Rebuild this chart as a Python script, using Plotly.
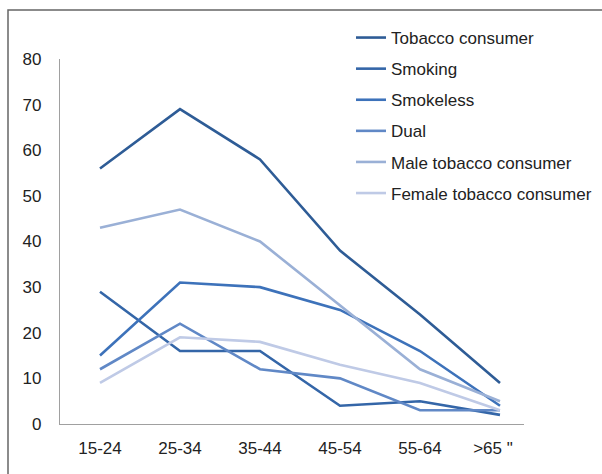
import plotly.graph_objects as go

age_groups = ["15-24", "25-34", "35-44", "45-54", "55-64", ">65"]
tick_labels = ["15-24", "25-34", "35-44", "45-54", "55-64", '>65 "&nbsp;&nbsp;&nbsp;']

tobacco_consumer = [56, 69, 58, 38, 24, 9]
smoking = [29, 16, 16, 4, 5, 2]
smokeless = [15, 31, 30, 25, 16, 4]
dual = [12, 22, 12, 10, 3, 3]
male_tobacco = [43, 47, 40, 26, 12, 5]
female_tobacco = [9, 19, 18, 13, 9, 3]

series = [
    ("Tobacco consumer", tobacco_consumer, "#2E5C96"),
    ("Smoking", smoking, "#3466A8"),
    ("Smokeless", smokeless, "#3D72BA"),
    ("Dual", dual, "#6088C6"),
    ("Male tobacco consumer", male_tobacco, "#9AB0D6"),
    ("Female tobacco consumer", female_tobacco, "#BFCAE6"),
]

FONT = "Liberation Sans, Arial, sans-serif"
W, H = 602, 474
L, R, T, B = 60, 78, 59, 50
PW, PH = W - L - R, H - T - B


def px_x(p):
    return (p - L) / PW


def px_y(p):
    return (H - B - p) / PH


fig = go.Figure()
for name, vals, color in series:
    fig.add_trace(go.Scatter(
        x=list(range(len(age_groups))), y=vals, name=name, mode="lines",
        line=dict(color=color, width=2.6), legendgroup=name,
    ))

fig.update_layout(
    width=W, height=H,
    margin=dict(l=L, r=R, t=T, b=B, pad=0, autoexpand=False),
    paper_bgcolor="white", plot_bgcolor="white",
    font=dict(family=FONT, size=17, color="#222222"),
    showlegend=True,
    legend=dict(
        xref="container", yref="container",
        x=351 / W, y=1 - 20 / H, xanchor="left", yanchor="top",
        font=dict(family=FONT, size=17, color="#222222"),
        tracegroupgap=6, bgcolor="rgba(0,0,0,0)",
    ),
    xaxis=dict(
        range=[-0.5, 5.3], tickvals=list(range(len(age_groups))), ticktext=tick_labels,
        showgrid=False, zeroline=False, showline=True, linecolor="#A0A0A0", linewidth=1.2,
        ticks="", ticklabelstandoff=8, fixedrange=True,
    ),
    yaxis=dict(
        range=[0, 80], tickvals=list(range(0, 81, 10)),
        showgrid=False, zeroline=False, showline=True, linecolor="#A0A0A0", linewidth=1.2,
        ticks="", ticklabelstandoff=14, fixedrange=True,
    ),
    shapes=[dict(
        type="rect", xref="paper", yref="paper",
        x0=px_x(8), x1=px_x(640), y0=px_y(520), y1=px_y(10),
        line=dict(color="#666666", width=1.5), fillcolor="rgba(0,0,0,0)", layer="below",
    )],
)

fig.write_html("out.html")
